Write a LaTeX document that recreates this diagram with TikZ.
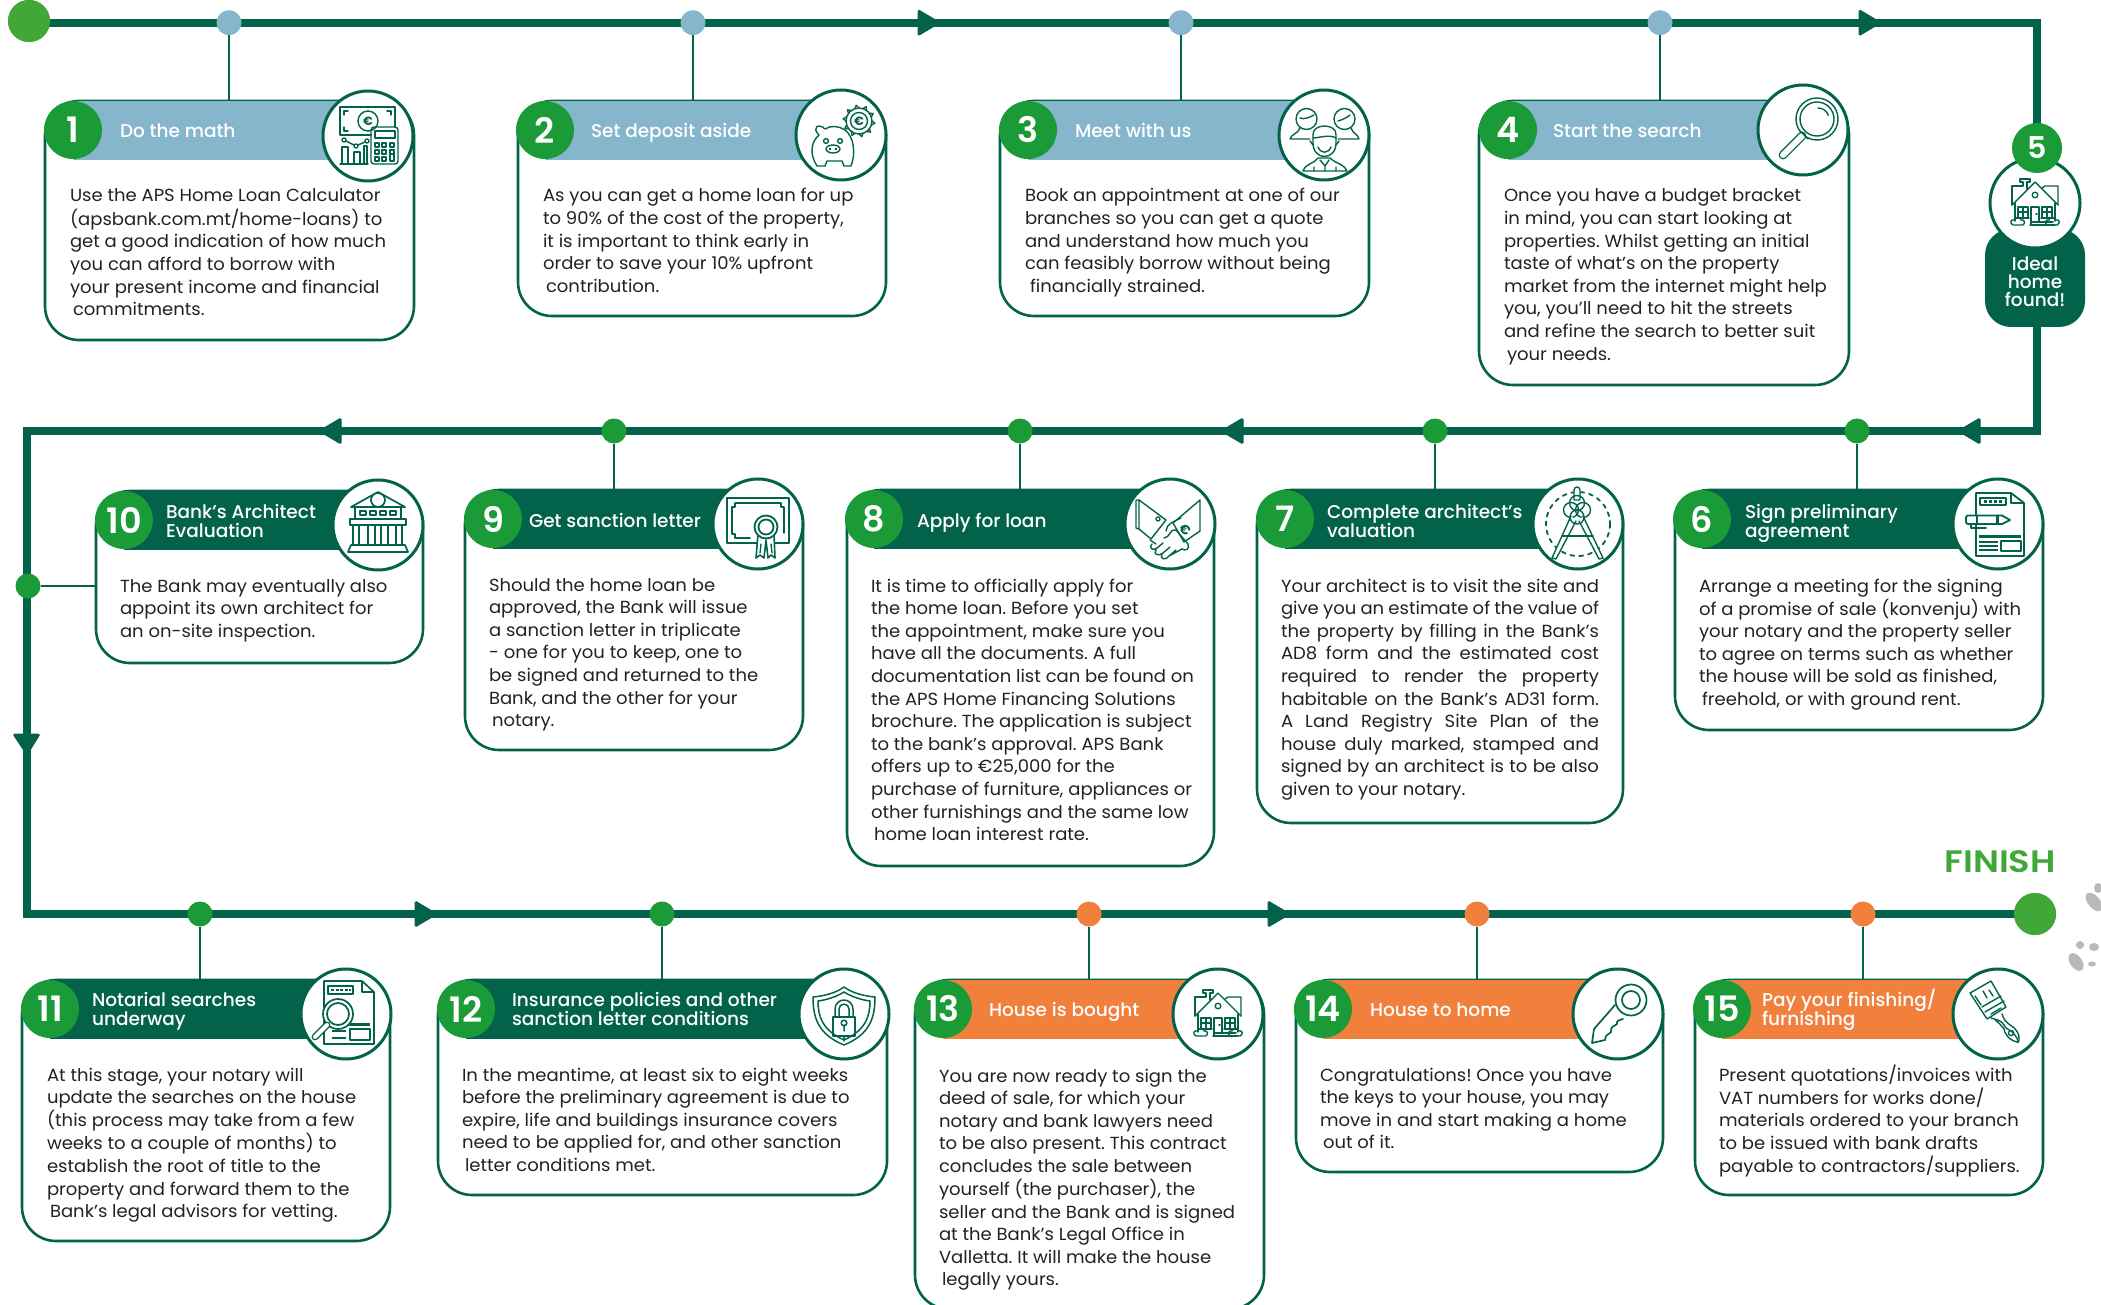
\documentclass[tikz,border=0pt]{standalone}
\usepackage{fontspec}
\setmainfont{Poppins}[FakeStretch=1.03]
\newfontfamily\medf{Poppins Medium}
\newfontfamily\semif{Poppins SemiBold}
\newfontfamily\finf{Poppins SemiBold}[FakeStretch=1.14]
\usetikzlibrary{calc}
\definecolor{dkg}{HTML}{03634A}
\definecolor{brg}{HTML}{1A9B37}
\definecolor{endg}{HTML}{41A737}
\definecolor{blu}{HTML}{85B6CB}
\definecolor{org}{HTML}{F1803D}
\definecolor{txt}{HTML}{222222}
\tikzset{
 mainline/.style={draw=dkg,line width=8pt,miter limit=10},
 conn/.style={draw=dkg,line width=2.6pt},
 ar/.style={fill=dkg,draw=dkg,line width=1pt,rounded corners=1.5pt},
 dotn/.style={circle,inner sep=0pt,outer sep=0pt,minimum size=25pt},
 endn/.style={circle,inner sep=0pt,outer sep=0pt,minimum size=42pt,fill=endg},
 cardbox/.style={draw=dkg,line width=2.6pt,fill=white,rounded corners=34pt,inner sep=0pt,outer sep=0pt},
 iconring/.style={circle,draw=dkg,line width=3pt,fill=white,minimum size=90pt,inner sep=0pt,outer sep=0pt},
 numdisc/.style={circle,fill=brg,text=white,minimum size=58pt,inner sep=0pt,outer sep=0pt,font=\semif\fontsize{35}{35}\selectfont},
 titlet/.style={anchor=base west,inner sep=0pt,outer sep=0pt,text=white,font=\medf\fontsize{18.5}{19}\selectfont,align=left},
 bodyt/.style={anchor=base west,inner sep=0pt,outer sep=0pt,text=txt},
 ic/.style={draw=dkg,line width=1.4pt,line join=round,line cap=round,fill=none},
}
\frenchspacing
\newcommand{\body}[1]{{\fontsize{17.5}{22.6}\selectfont\frenchspacing\renewcommand\arraystretch{1}\begin{tabular}[t]{@{}l@{}}#1\end{tabular}}}
\newcommand{\jl}[1]{\makebox[318pt][s]{#1}}
\newcommand{\cardbase}[9]{%
 \node[cardbox,minimum width={#4-#2},minimum height={#5-#3}] (c#1) at ({(#2+#4)/2},{(#3+#5)/2}) {};
 \fill[#6] (#7,#3) rectangle (#8,#3+59);
 \node[iconring] (i#1) at (#8,#9) {};
 \node[numdisc] (n#1) at (#7,#3+29) {#1};
}
\newcommand{\housepic}{%
 \draw (-23,2) -- (0,-21) -- (23,2);
 \draw (-23,2) -- (-23,-17) -- (-12,-17) -- (-12,-21) -- (-15,-21) -- (-15,-24) -- (-5,-24) -- (-5,-21) -- (-8,-21) -- (-8,-14);
 \draw (7,-15) -- (10,-17) -- (23,-17) -- (23,2);
 \draw (0,-8) circle (2.8);
 \draw (-20,0) -- (-20,18) (20,0) -- (20,18);
 \draw (-17,4) rectangle (-7,15) (-17,9) -- (-7,9) (-12,4) -- (-12,15) (-19,15) -- (-6,15);
 \draw (17,4) rectangle (7,15) (17,9) -- (7,9) (12,4) -- (12,15) (19,15) -- (6,15);
 \draw (-4,22) -- (-4,4) -- (4,4) -- (4,18) (1,11) -- (2,11);
 \draw (-5,22) -- (20,22) (-4,19) -- (18,19);
 \draw (-12,22) -- (-22,22) .. controls (-26,20) and (-24,16) .. (-21,17) .. controls (-19,13) and (-14,14) .. (-14,17) .. controls (-11,16) and (-9,20) .. (-12,22);
 \draw (12,22) -- (22,22) .. controls (26,20) and (24,16) .. (21,17) .. controls (19,13) and (14,14) .. (14,17) .. controls (11,16) and (9,20) .. (12,22);
}
\begin{document}
\begin{tikzpicture}[x=1pt,y=-1pt]
\useasboundingbox (0,0) rectangle (2101,1305);
% main line
\node[endn] (start) at (29,21) {};
\node[endn] (finish) at (2035,914) {};
\coordinate (ctr) at (2037,22.7);
\coordinate (crb) at (2037,431);
\coordinate (clt) at (27,431);
\coordinate (clb) at (27,914);
\draw[mainline] (start.center |- ctr) -- (ctr) -- (crb) -- (clt) -- (clb) -- (finish.center);
\node[endn] at (start) {};
\node[endn] at (finish) {};
% arrows
\newcommand{\arR}[2]{\path[ar] (#1+12,#2) -- (#1-10,#2-13) -- (#1-10,#2+13) -- cycle;}
\newcommand{\arL}[2]{\path[ar] (#1-12,#2) -- (#1+10,#2-13) -- (#1+10,#2+13) -- cycle;}
\arR{928}{22.7}\arR{1869}{22.7}
\arL{1970}{431}\arL{1233}{431}\arL{331}{431}
\arR{425}{914}\arR{1278}{914}
\path[ar] (27,755) -- (13,734) -- (40,734) -- cycle;
% dots
\foreach \n/\x/\y/\c in {1/229/22.7/blu,2/693/22.7/blu,3/1181/22.7/blu,4/1660/22.7/blu,
 6/1857/431/brg,7/1435/431/brg,8/1020/431/brg,9/614/431/brg,10/28/586/brg,
 11/200/914/brg,12/662/914/brg,13/1089/914/org,14/1477/914/org,15/1863/914/org}
 \node[dotn,fill=\c] (d\n) at (\x,\y) {};
% cards
\cardbase{1}{45}{101}{414}{340}{blu}{73}{368}{136}
\cardbase{2}{518}{101}{886}{316}{blu}{545}{841}{135}
\cardbase{3}{1000}{101}{1369}{316}{blu}{1028}{1324}{135}
\cardbase{4}{1479}{101}{1849}{385}{blu}{1508}{1803}{130}
\cardbase{6}{1675}{490}{2043}{730}{dkg}{1702}{1998}{524}
\cardbase{7}{1257}{490}{1623}{823}{dkg}{1285}{1578}{524}
\cardbase{8}{847}{490}{1214}{866}{dkg}{874}{1170}{524}
\cardbase{9}{465}{490}{803}{750}{dkg}{493}{758}{524}
\cardbase{10}{96}{491}{423}{663}{dkg}{124}{378}{525}
\cardbase{11}{22}{980}{390}{1241}{dkg}{50}{346}{1014}
\cardbase{12}{438}{980}{887}{1195}{dkg}{466}{844}{1014}
\begin{scope}
\clip (900,960) rectangle (1280,1305);
\cardbase{13}{915}{980}{1264}{1309}{org}{943}{1218}{1014}
\end{scope}
\cardbase{14}{1296}{980}{1663}{1172}{org}{1323}{1618}{1014}
\cardbase{15}{1695}{980}{2043}{1195}{org}{1722}{1998}{1014}
% connectors
\foreach \n in {1,2,3,4,6,7,8,9,11,12,13,14,15}
 \draw[conn] (d\n) -- (d\n |- c\n.north);
\draw[conn] (d10) -- (d10 -| c10.west);
% step 5
\node[fill=dkg,rounded corners=26pt,minimum width=100pt,minimum height=98pt,inner sep=0pt,outer sep=0pt] (box5) at (2035,278) {};
\node[iconring] (i5) at (2035,203) {};
\node[numdisc,minimum size=50pt,font=\semif\fontsize{30}{30}\selectfont] (n5) at (2037,148) {5};
\node[text=white,font=\medf\fontsize{18.5}{18}\selectfont,align=center,inner sep=0pt] (t5) at (2035,282) {Ideal\\home\\found!};
% titles
\node[titlet] (t1) at (120,138) {Do the math};
\node[titlet] (t2) at (591,138) {Set deposit aside};
\node[titlet] (t3) at (1075,138) {Meet with us};
\node[titlet] (t4) at (1553,138) {Start the search};
\newcommand{\ttwo}[5]{\node[titlet] (#1a) at (#2,#3) {#4}; \node[titlet] (#1b) at (#2,#3+19) {#5};}
\ttwo{t6}{1745}{518}{Sign preliminary}{agreement}
\ttwo{t7}{1327}{518}{Complete architect’s}{valuation}
\node[titlet] (t8) at (917,527) {Apply for loan};
\node[titlet] (t9) at (529,527) {Get sanction letter};
\ttwo{t10}{166}{518}{Bank’s Architect}{Evaluation}
\ttwo{t11}{92}{1006}{Notarial searches}{underway}
\ttwo{t12}{512}{1006}{Insurance policies and other}{sanction letter conditions}
\node[titlet] (t13) at (989,1016) {House is bought};
\node[titlet] (t14) at (1370,1016) {House to home};
\ttwo{t15}{1762}{1006}{Pay your finishing/}{furnishing}
% bodies
\node[bodyt] (b1) at (70,202) {\body{Use the APS Home Loan Calculator\\(apsbank.com.mt/home-loans) to\\get a good indication of how much\\you can afford to borrow with\\your present income and financial\\\hspace{3pt}commitments.}};
\node[bodyt] (b2) at (543,202) {\body{As you can get a home loan for up\\to 90\% of the cost of the property,\\it is important to think early in\\order to save your 10\% upfront\\\hspace{3pt}contribution.}};
\node[bodyt] (b3) at (1025,202) {\body{Book an appointment at one of our\\branches so you can get a quote\\and understand how much you\\can feasibly borrow without being\\\hspace{5pt}financially strained.}};
\node[bodyt] (b4) at (1504,202) {\body{Once you have a budget bracket\\in mind, you can start looking at\\properties. Whilst getting an initial\\taste of what’s on the property\\market from the internet might help\\you, you’ll need to hit the streets\\and refine the search to better suit\\\hspace{3pt}your needs.}};
\node[bodyt] (b6) at (1699,592) {\body{Arrange a meeting for the signing\\of a promise of sale (konvenju) with\\your notary and the property seller\\to agree on terms such as whether\\the house will be sold as finished,\\\hspace{3pt}freehold, or with ground rent.}};
\node[bodyt] (b7) at (1281,592) {\body{\jl{Your architect is to visit the site and}\\\jl{give you an estimate of the value of}\\\jl{the property by filling in the Bank’s}\\\jl{AD8 form and the estimated cost}\\\jl{required to render the property}\\\jl{habitable on the Bank’s AD31 form.}\\\jl{A Land Registry Site Plan of the}\\\jl{house duly marked, stamped and}\\\jl{signed by an architect is to be also}\\given to your notary.}};
\node[bodyt] (b8) at (871,592) {\body{It is time to officially apply for\\the home loan. Before you set\\the appointment, make sure you\\have all the documents. A full\\documentation list can be found on\\the APS Home Financing Solutions\\brochure. The application is subject\\to the bank’s approval. APS Bank\\offers up to €25,000 for the\\purchase of furniture, appliances or\\other furnishings and the same low\\\hspace{3pt}home loan interest rate.}};
\node[bodyt] (b9) at (489,591) {\body{Should the home loan be\\approved, the Bank will issue\\a sanction letter in triplicate\\- one for you to keep, one to\\be signed and returned to the\\Bank, and the other for your\\\hspace{3pt}notary.}};
\node[bodyt] (b10) at (120,592) {\body{The Bank may eventually also\\appoint its own architect for\\an on-site inspection.}};
\node[bodyt] (b11) at (47,1081) {\body{At this stage, your notary will\\update the searches on the house\\(this process may take from a few\\weeks to a couple of months) to\\establish the root of title to the\\property and forward them to the\\\hspace{3pt}Bank’s legal advisors for vetting.}};
\node[bodyt] (b12) at (462,1081) {\body{In the meantime, at least six to eight weeks\\before the preliminary agreement is due to\\expire, life and buildings insurance covers\\need to be applied for, and other sanction\\\hspace{3pt}letter conditions met.}};
\node[bodyt] (b13) at (939,1082) {\body{You are now ready to sign the\\deed of sale, for which your\\notary and bank lawyers need\\to be also present. This contract\\concludes the sale between\\yourself (the purchaser), the\\seller and the Bank and is signed\\at the Bank’s Legal Office in\\Valletta. It will make the house\\\hspace{3pt}legally yours.}};
\node[bodyt] (b14) at (1320,1081) {\body{Congratulations! Once you have\\the keys to your house, you may\\move in and start making a home\\\hspace{3pt}out of it.}};
\node[bodyt] (b15) at (1719,1081) {\body{Present quotations/invoices with\\VAT numbers for works done/\\materials ordered to your branch\\to be issued with bank drafts\\payable to contractors/suppliers.}};
\node[text=endg,font=\finf\fontsize{31}{31}\selectfont,anchor=base east,inner sep=0pt] (fin) at (2056,872) {FINISH};
% paw marks at the edge
\begin{scope}[gray!55]
\fill[rotate around={40:(2094,902)}] (2094,902) ellipse (6 and 11);
\fill (2098,888) ellipse (4 and 5);
\fill[rotate around={35:(2076,962)}] (2076,962) ellipse (6 and 10);
\fill (2080,945) ellipse (4 and 4) (2094,947) ellipse (5 and 4) (2092,964) ellipse (4 and 2.5);
\end{scope}
% ICONS
\begin{scope}[shift={(i1.center)},ic]
 \draw (3,-1) -- (-28,-1) -- (-28,-29) -- (27,-29) -- (27,-9);
 \draw (-24,-21) -- (-24,-25) -- (-20,-25) (23,-21) -- (23,-25) -- (19,-25) (-24,-9) -- (-24,-5) -- (-20,-5);
 \draw (0,-15) circle (10);
 \node[text=dkg,font=\bfseries\fontsize{12}{12}\selectfont,inner sep=0pt] at (0,-15) {€};
 \draw[rounded corners=3pt] (3,-9) rectangle (30,28);
 \draw (7,-5) rectangle (27,2);
 \foreach \a in {7,14,22} \foreach \b in {7,14,21} {\ifnum\b=21\ifnum\a=22\else\draw (\a,\b) rectangle +(4,4);\fi\else\draw (\a,\b) rectangle +(4,4);\fi}
 \draw (22,14) rectangle (26,25);
 \draw (-28,28) -- (0,28);
 \draw (-26,28) -- (-26,11) -- (-20,11) -- (-20,28) (-14,28) -- (-14,16) -- (-8,16) -- (-8,28) (-4,28) -- (-4,10) -- (-1,10) (-1,10) -- (-1,28);
 \draw (-24,4) circle (2) (-12,10) circle (2) (-1,5) circle (2);
 \draw (-22,5) -- (-14,9) (-10,9) -- (-3,6);
\end{scope}
\begin{scope}[shift={(i2.center)},ic]
 \draw (-22,0) .. controls (-30,-8) and (-22,-12) .. (-16,-6) .. controls (-10,-10) and (-2,-9) .. (4,-5) .. controls (13,2) and (15,18) .. (10,31) -- (3,31) -- (1,26) -- (-14,26) -- (-16,31) -- (-24,31) .. controls (-31,20) and (-31,8) .. (-22,0);
 \draw (-15,6) circle (2.4) (-1,6) circle (2.4);
 \draw (-8,14) ellipse (7 and 4);
 \draw (-11,14) circle (.7) (-5,14) circle (.7);
 \foreach \a in {0,36,...,324} \draw[fill=white] ($(18,-14)+(\a:13)$) -- ($(18,-14)+(\a+8:16)$) -- ($(18,-14)+(\a+18:13)$);
 \draw (18,-14) circle (13) (18,-14) circle (8.5);
 \node[text=dkg,font=\bfseries\fontsize{12}{12}\selectfont,inner sep=0pt] at (18,-14) {€};
\end{scope}
\begin{scope}[shift={(i3.center)},ic]
 \draw (-17.5,-16) circle (10.5);
 \draw (-24,-17) .. controls (-20,-15) and (-14,-18) .. (-10,-20);
 \draw (-34,4) .. controls (-33,-1) and (-26,-1) .. (-24,-7) (-34,4) -- (-14,4);
 \draw (20.5,-16) circle (10.5);
 \draw (14,-14) .. controls (18,-15) and (24,-18) .. (26,-20);
 \draw (35,4) .. controls (34,-1) and (29,-1) .. (27,-7) (14,4) -- (35,4);
 \draw[fill=white] (-11,8) -- (-11,0) .. controls (-12,-12) and (13,-12) .. (12,0) -- (12,8) .. controls (12,26) and (-11,26) .. (-11,8) -- cycle;
 \draw (-14,6) -- (-11,10) (15,6) -- (12,10);
 \draw (-6,12) .. controls (-3,19) and (4,19) .. (7,12);
 \draw (-11,3) .. controls (-6,3) and (6,-1) .. (12,3);
 \draw[fill=white] (-21,36) .. controls (-18,28) and (-10,29) .. (-6,23) -- (6,23) .. controls (12,29) and (19,28) .. (23,36) -- cycle;
 \draw (-4,25) -- (1,31) -- (5,25) (1,31) -- (1,36) (-10,36) -- (-10,32) (12,36) -- (12,32);
\end{scope}
\begin{scope}[shift={(i4.center)},ic]
 \draw (14,-11) circle (21) (14,-11) circle (17);
 \draw (15,-22) arc (-90:-20:11);
 \draw[line width=1.4pt,double=white,double distance=6pt,line cap=round] (-20,25) -- (-1,6);
 \draw (-3,1) -- (5,9);
\end{scope}
\begin{scope}[shift={(i5.center)},ic]\housepic\end{scope}
\begin{scope}[shift={(i13.center)},ic]\housepic\end{scope}
\begin{scope}[shift={(i6.center)},ic]
 \draw[line width=1.8pt] (13,-31) -- (-22,-31) -- (-22,32) -- (26,32) -- (26,-21) -- (13,-31) -- (13,-21) -- (26,-21);
 \draw[line width=1.8pt] (-18,-26) rectangle (8,-19);
 \draw[line width=3pt,line cap=butt,dash pattern=on 3pt off 2pt] (-14,-22.5) -- (6,-22.5);
 \draw[fill=white,line width=1.8pt,rounded corners=2pt] (0,-8.5) -- (-32,-8.5) -- (-32,0) -- (0,0);
 \draw[fill=white,line width=1.8pt] (0,-8.5) -- (4,-8.5) -- (12,-4) -- (4,0) -- (0,0) -- cycle;
 \draw[line width=1.8pt] (-21,-8.5) -- (-21,0) (-1,-8.5) -- (-1,0) (-27,0) -- (-27,4) -- (-12,4);
 \draw[line width=3pt,line cap=butt] (-19,12) -- (23,12);
 \draw[line width=2pt,line cap=butt] (-19,18) -- (0,18) (-19,22) -- (0,22) (-19,26) -- (0,26);
 \draw[line width=1.8pt] (3,17) rectangle (23,27);
\end{scope}
\begin{scope}[shift={(i7.center)},ic]
 \draw[dash pattern=on 4pt off 5pt,line width=1.8pt] (0,0) circle (32);
 \draw[fill=white] (-4,-24) -- (-4,-34) .. controls (-4,-38) and (2,-38) .. (2,-34) -- (2,-24) -- cycle;
 \draw[fill=white] (-7,-14) circle (7.5) (5,-14) circle (7.5);
 \draw (-1,-21) circle (7.5);
 \draw[fill=white] (-7,-8) -- (-26,34) -- (-22,35) -- (-2,-3);
 \draw[fill=white] (5,-8) -- (25,34) -- (21,35) -- (1,-3);
 \draw (-1,-7) circle (7);
 \draw (-16,12) -- (15,12);
\end{scope}
\begin{scope}[shift={(i8.center)},ic]
 \draw (-31,-24) -- (-4,-4) -- (-19,15) -- (-31,5) -- cycle;
 \draw (-34,-24) -- (-31,-24) (-34,-24) -- (-34,4) -- (-31,5);
 \draw (30,-24) -- (30,7) -- (14,18) -- (3,-1) -- cycle;
 \draw (-12,-5) circle (2);
 \draw (-4,7) .. controls (-4,0) and (5,-3) .. (11,-6) (-6,14) .. controls (0,14) and (0,4) .. (6,6) -- (18,20) .. controls (20,26) and (15,27) .. (12,25);
 \draw (-20,16) -- (-14,20) (-18,20) .. controls (-22,23) and (-17,28) .. (-13,24) (-14,26) .. controls (-17,30) and (-12,33) .. (-7,29) (-8,30) .. controls (-11,35) and (-4,37) .. (-1,32) (-1,32) -- (12,25) (-13,24) -- (-7,19) (-7,29) -- (0,23) (-1,32) -- (6,26);
 \node[text=dkg,font=\bfseries\fontsize{13}{13}\selectfont,rotate=-35,inner sep=0pt] at (15,6) {€};
\end{scope}
\begin{scope}[shift={(i9.center)},ic]
 \draw[line width=1.8pt] (-31,-26) rectangle (31,19);
 \draw[line width=1.8pt] (-23,-21) -- (23,-21) -- (23,-17) -- (26,-17) -- (26,9) (-8,14) -- (-23,14) -- (-23,10) -- (-26,10) -- (-26,-17) -- (-23,-17) -- (-23,-21);
 \draw[fill=white,line width=1.6pt] (0,10) -- (-2,34) -- (2,31) -- (6,34) -- (8,16) -- (10,34) -- (13,31) -- (17,34) -- (16,10);
 \draw (3,20) -- (2,29) (13,20) -- (14,29);
 \draw[fill=white,line width=1.8pt] (8,3) circle (11.5) (8,3) circle (7.5);
\end{scope}
\begin{scope}[shift={(i10.center)},ic]
 \draw[line width=1.7pt] (-27,-18) -- (0,-33) -- (27,-18) -- cycle;
 \draw[fill=white,line width=1.7pt] (0,-25) circle (7);
 \draw[line width=1.7pt] (-23,-18) rectangle (23,-6);
 \foreach \a in {-18,-8,2,12} \draw (\a,-14) rectangle +(6,4);
 \draw[line width=1.7pt] (-28,-6) rectangle (28,0);
 \foreach \a in {-25,18} \draw[line width=1.7pt] (\a,0) rectangle +(6,20);
 \draw[line width=1.7pt] (-10,20) -- (-10,0) (10,20) -- (10,0) (-3,20) -- (-3,0) (3,20) -- (3,0);
 \draw[line width=1.7pt] (-27,20) -- (27,20) (-30,27) -- (30,27) (-30,27) -- (-27,20) (30,27) -- (27,20);
\end{scope}
\begin{scope}[shift={(i11.center)},ic]
 \draw[line width=1.7pt] (16,-33) -- (-22,-33) -- (-22,30) -- (28,30) -- (28,-22) -- (16,-33) -- (16,-22) -- (28,-22);
 \draw[line width=1.7pt] (-18,-28) rectangle (7,-20);
 \draw[line width=2.8pt,line cap=butt,dash pattern=on 3pt off 1.5pt] (-15,-24) -- (5,-24);
 \draw[line width=2.8pt,line cap=butt] (-14,10.5) -- (24,10.5);
 \draw[line width=1.7pt] (4,15) rectangle (24,26);
 \draw[line width=2pt,line cap=butt] (-14,17) -- (0,17) (-14,24) -- (0,24);
 \draw[fill=white,line width=1.7pt] (-8,0) circle (15) (-8,0) circle (11);
 \draw[fill=white,double=white,line width=1.4pt,double distance=4pt] (-31,23) -- (-19,11);
\end{scope}
\begin{scope}[shift={(i12.center)},ic]
 \draw[line width=1.5pt] (0,-27) .. controls (-8,-21) and (-20,-18) .. (-31,-17) .. controls (-31,2) and (-27,20) .. (0,31) .. controls (27,20) and (31,2) .. (31,-17) .. controls (20,-18) and (8,-21) .. (0,-27) -- cycle;
 \draw[line width=1.5pt] (0,-22) .. controls (-8,-17) and (-18,-14) .. (-26,-13) .. controls (-26,2) and (-22,16) .. (0,26) .. controls (22,16) and (26,2) .. (26,-13) .. controls (18,-14) and (8,-17) .. (0,-22) -- cycle;
 \draw[line width=1.5pt] (-11,3) rectangle (11,22);
 \draw[line width=1.5pt] (-9,3) -- (-9,-5) arc (180:360:9) -- (9,3) (-5,3) -- (-5,-5) arc (180:360:5) -- (5,3);
 \draw[line width=1.5pt] (0,9) circle (2.8) (0,11) -- (0,17) (0,22) -- (0,27);
\end{scope}
\begin{scope}[shift={(i14.center)},ic]
 \draw[line width=1.7pt] (-3,-9) -- (-24,15) -- (-26,29) -- (-13,26) .. controls (-13,20) and (-8,20) .. (-7,18) .. controls (-8,12) and (-3,12) .. (-1,10) .. controls (-2,7) and (1,6) .. (5,5);
 \draw[line width=1.7pt] (13,-14) circle (15.5) (13,-14) circle (9);
\end{scope}
\begin{scope}[shift={(i15.center)},ic]
 \draw (-28,-21) -- (-7,-33) -- (8,-7) -- (-11,5) -- cycle;
 \draw (-16,-7) -- (3,-18) (-13,-2) -- (6,-13) (-23,-18) -- (-17,-9) (-15,-23) -- (-11,-16) (-9,-24) -- (-5,-18) (-7,0) -- (3,-6);
 \draw (-7,4) .. controls (-1,6) and (3,6) .. (6,11) .. controls (8,16) and (11,14) .. (16,20) .. controls (21,26) and (21,30) .. (19,28) .. controls (10,26) and (6,18) .. (6,15) .. controls (3,11) and (0,8) .. (-3,6);
 \draw (4,0) .. controls (6,6) and (8,8) .. (12,11) .. controls (18,14) and (22,20) .. (21,27);
 \draw (13,19) circle (2.6);
\end{scope}
\end{tikzpicture}
\end{document}
